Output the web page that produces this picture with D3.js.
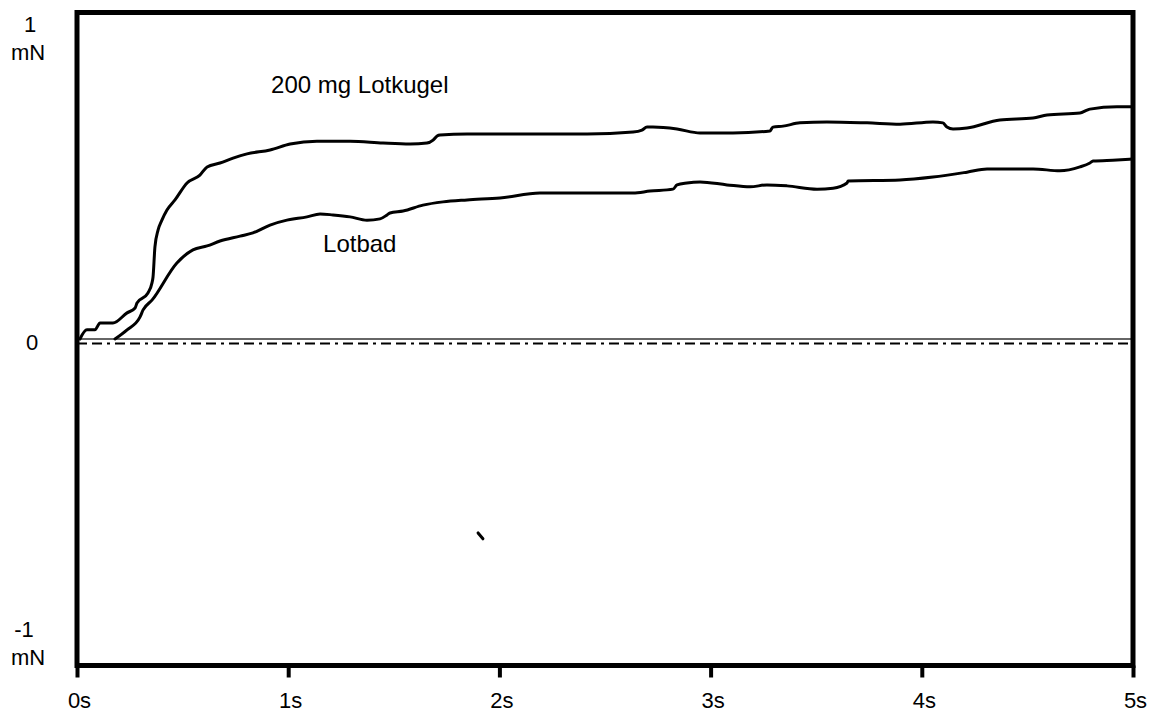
<!DOCTYPE html>
<html>
<head>
<meta charset="utf-8">
<script src="https://cdn.jsdelivr.net/npm/d3@7"></script>
<style>
    body { margin: 0; background: #fff; }
    svg text { font-family: 'Liberation Sans', Arial, sans-serif; fill: #000; }
</style>
</head>
<body>
<div id="chart"></div>
<script>
// time in s, force in mN
const kugelT = [0.014, 0.047, 0.085, 0.109, 0.170, 0.237, 0.275, 0.284, 0.336, 0.355, 0.360, 0.369, 0.384, 0.402, 0.426, 0.464, 0.521, 0.582, 0.616, 0.677, 0.739, 0.805, 0.914, 1.009, 1.136, 1.293, 1.449, 1.577, 1.657, 1.686, 1.705, 1.719, 1.847, 2.415, 2.633, 2.675, 2.699, 2.727, 2.841, 2.950, 3.106, 3.281, 3.295, 3.343, 3.423, 3.551, 3.741, 3.897, 4.053, 4.100, 4.119, 4.148, 4.214, 4.370, 4.527, 4.593, 4.749, 4.782, 4.796, 4.924, 4.995];
const kugelV = [0.000, 0.028, 0.028, 0.049, 0.049, 0.080, 0.095, 0.110, 0.141, 0.172, 0.190, 0.282, 0.334, 0.364, 0.395, 0.426, 0.478, 0.502, 0.527, 0.539, 0.554, 0.567, 0.579, 0.597, 0.606, 0.606, 0.600, 0.597, 0.600, 0.609, 0.622, 0.625, 0.628, 0.628, 0.634, 0.640, 0.649, 0.649, 0.643, 0.631, 0.631, 0.637, 0.649, 0.652, 0.662, 0.665, 0.662, 0.658, 0.665, 0.662, 0.649, 0.643, 0.646, 0.671, 0.677, 0.686, 0.692, 0.701, 0.704, 0.711, 0.711];

const badT = [0.180, 0.237, 0.298, 0.313, 0.355, 0.473, 0.549, 0.616, 0.677, 0.772, 0.833, 0.914, 0.994, 1.089, 1.151, 1.212, 1.293, 1.373, 1.435, 1.468, 1.482, 1.544, 1.638, 1.733, 1.847, 2.003, 2.192, 2.287, 2.415, 2.633, 2.713, 2.822, 2.841, 2.888, 2.950, 3.078, 3.187, 3.267, 3.362, 3.504, 3.580, 3.646, 3.651, 3.897, 4.053, 4.214, 4.309, 4.527, 4.654, 4.749, 4.796, 4.811, 4.924, 4.995];
const badV = [0.000, 0.028, 0.067, 0.089, 0.119, 0.233, 0.273, 0.285, 0.300, 0.315, 0.325, 0.349, 0.364, 0.374, 0.383, 0.380, 0.374, 0.364, 0.368, 0.380, 0.386, 0.392, 0.410, 0.420, 0.426, 0.432, 0.447, 0.447, 0.447, 0.447, 0.453, 0.459, 0.472, 0.478, 0.481, 0.472, 0.466, 0.472, 0.469, 0.459, 0.462, 0.478, 0.484, 0.487, 0.496, 0.511, 0.521, 0.521, 0.515, 0.527, 0.539, 0.545, 0.548, 0.551];

// stray mark in the lower half
const strayT = [1.899, 1.922];
const strayV = [-0.594, -0.612];

const xTicks = [0, 1, 2, 3, 4, 5];
const xTickLabels = ['0s', '1s', '2s', '3s', '4s', '5s'];

const labels = [
    { t: 0.919, v: 0.753, text: '200 mg Lotkugel' },
    { t: 1.165, v: 0.266, text: 'Lotbad' }
];

const baselineV = -0.0138;

const width = 1157;
const height = 713;
const margin = { left: 77, right: 24, top: 12.5, bottom: 47.5 };

const x = d3.scaleLinear().domain([0, 5]).range([margin.left, width - margin.right]);
const y = d3.scaleLinear().domain([-1, 1]).range([height - margin.bottom, margin.top]);

const svg = d3.select('#chart')
    .append('svg')
    .attr('width', width)
    .attr('height', height);

// zero line and dash-dot baseline
svg.append('line')
    .attr('x1', x(0)).attr('x2', x(5))
    .attr('y1', y(0)).attr('y2', y(0))
    .attr('stroke', '#333')
    .attr('stroke-width', 1.5);

svg.append('line')
    .attr('x1', x(0)).attr('x2', x(5))
    .attr('y1', y(baselineV)).attr('y2', y(baselineV))
    .attr('stroke', '#000')
    .attr('stroke-width', 2)
    .attr('stroke-dasharray', '10,5,10,5,3,5');

const line = d3.line()
    .x(d => x(d[0]))
    .y(d => y(d[1]))
    .curve(d3.curveMonotoneX);

function drawSeries(ts, vs) {
    svg.append('path')
        .datum(ts.map((t, i) => [t, vs[i]]))
        .attr('d', line)
        .attr('fill', 'none')
        .attr('stroke', '#000')
        .attr('stroke-width', 3)
        .attr('stroke-linejoin', 'round')
        .attr('stroke-linecap', 'round');
}

drawSeries(kugelT, kugelV);
drawSeries(badT, badV);
drawSeries(strayT, strayV);

// frame
svg.append('rect')
    .attr('x', x(0))
    .attr('y', y(1))
    .attr('width', x(5) - x(0))
    .attr('height', y(-1) - y(1))
    .attr('fill', 'none')
    .attr('stroke', '#000')
    .attr('stroke-width', 5);

// bottom axis ticks and labels
const xAxis = d3.axisBottom(x)
    .tickValues(xTicks)
    .tickFormat((d, i) => xTickLabels[i])
    .tickSize(12)
    .tickPadding(15);

const gx = svg.append('g')
    .attr('transform', `translate(0,${y(-1)})`)
    .call(xAxis);
gx.select('.domain').remove();
gx.selectAll('.tick line').attr('stroke', '#000').attr('stroke-width', 4);
gx.selectAll('.tick text')
    .attr('font-size', 22)
    .attr('dx', 2)
    .style('font-family', "'Liberation Sans', Arial, sans-serif");

// y labels
const yLabels = [
    { v: 1, dy: 19.5, cx: 30, text: '1' },
    { v: 1, dy: 47.5, cx: 28, text: 'mN' },
    { v: 0, dy: 11, cx: 32, text: '0' },
    { v: -1, dy: -28.5, cx: 24, text: '-1' },
    { v: -1, dy: -0.5, cx: 28, text: 'mN' }
];

svg.append('g')
    .selectAll('text')
    .data(yLabels)
    .enter()
    .append('text')
    .attr('x', d => d.cx)
    .attr('y', d => y(d.v) + d.dy)
    .attr('text-anchor', 'middle')
    .attr('font-size', 22)
    .text(d => d.text);

// curve annotations
svg.append('g')
    .selectAll('text')
    .data(labels)
    .enter()
    .append('text')
    .attr('x', d => x(d.t))
    .attr('y', d => y(d.v))
    .attr('font-size', 24)
    .text(d => d.text);
</script>
</body>
</html>
